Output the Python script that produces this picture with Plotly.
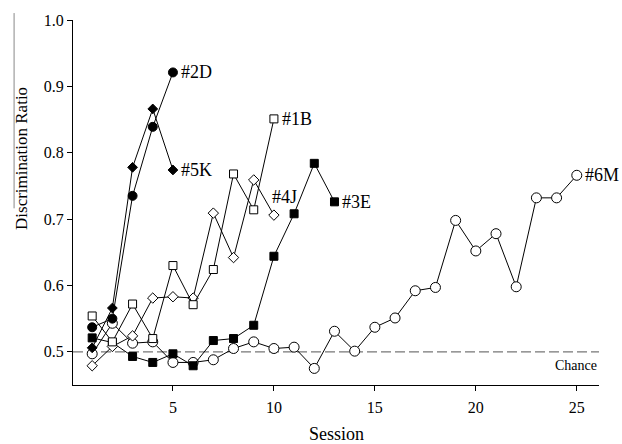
import plotly.graph_objects as go

# ---- data ----
rat_2D = [0.537, 0.550, 0.735, 0.839, 0.921]
rat_5K = [0.506, 0.566, 0.778, 0.866, 0.774]
rat_1B = [0.554, 0.515, 0.572, 0.520, 0.630, 0.571, 0.624, 0.768, 0.714, 0.851]
rat_4J = [0.479, 0.508, 0.524, 0.581, 0.583, 0.581, 0.709, 0.642, 0.759, 0.706]
rat_3E = [0.521, 0.514, 0.493, 0.484, 0.497, 0.479, 0.517, 0.520, 0.540, 0.644,
          0.708, 0.784, 0.726]
rat_6M = [0.497, 0.543, 0.513, 0.515, 0.484, 0.484, 0.488, 0.505, 0.515, 0.505,
          0.507, 0.475, 0.531, 0.501, 0.537, 0.551, 0.592, 0.597, 0.698, 0.652,
          0.678, 0.598, 0.732, 0.732, 0.766]
chance = 0.5
x_ticks = [5, 10, 15, 20, 25]
y_ticks = [0.5, 0.6, 0.7, 0.8, 0.9, 1.0]

FONT = "Liberation Serif, Times New Roman, serif"

series = [
    ("#6M", rat_6M, "circle", 10, "white"),
    ("#3E", rat_3E, "square", 8, "black"),
    ("#4J", rat_4J, "diamond", 8, "white"),
    ("#1B", rat_1B, "square", 8, "white"),
    ("#5K", rat_5K, "diamond", 7.5, "black"),
    ("#2D", rat_2D, "circle", 9, "black"),
]

fig = go.Figure()
for name, vals, sym, size, fill in series:
    sessions = list(range(1, len(vals) + 1))
    fig.add_trace(go.Scatter(
        x=sessions, y=vals, mode="lines+markers", name=name,
        line=dict(color="black", width=1),
        marker=dict(symbol=sym, size=size, color=fill,
                    line=dict(color="black", width=1)),
        cliponaxis=False, showlegend=False, hoverinfo="skip",
    ))

# series labels at the last point of each series
label_pos = {"#2D": (5, rat_2D[-1], 6, 0), "#5K": (5, rat_5K[-1], 6, 0),
             "#1B": (10, rat_1B[-1], 6, 0), "#4J": (10, rat_4J[-1], -4, 18),
             "#3E": (13, rat_3E[-1], 6, 0), "#6M": (25, rat_6M[-1], 6, 0)}
for name, (lx, ly, xs, ys) in label_pos.items():
    fig.add_annotation(x=lx, y=ly, text=name, showarrow=False, xanchor="left",
                       yanchor="middle", xshift=xs, yshift=ys,
                       font=dict(family=FONT, size=18, color="black"))

# chance line
fig.add_shape(type="line", xref="paper", x0=0, x1=1, yref="y", y0=chance, y1=chance,
              line=dict(color="#777777", width=1.3, dash="10px,4px"), layer="below")
fig.add_annotation(xref="paper", x=1, y=chance, text="Chance", showarrow=False,
                   xanchor="right", yanchor="top", yshift=-4,
                   font=dict(family=FONT, size=14, color="black"))

# axis titles
fig.add_annotation(xref="paper", yref="paper", x=0.5, y=-0.168, text="Session",
                   showarrow=False, xanchor="center", yanchor="bottom",
                   font=dict(family=FONT, size=18, color="black"))
fig.add_annotation(xref="paper", yref="paper", x=-0.097, y=0.622,
                   text="Discrimination Ratio", textangle=-90, showarrow=False,
                   xanchor="center", yanchor="middle",
                   font=dict(family=FONT, size=17, color="black"))
# stray vertical rule at left of the reference
fig.add_shape(type="line", xref="paper", yref="paper", x0=-0.112, x1=-0.112,
              y0=1.019, y1=0.484, line=dict(color="#888888", width=1))

fig.update_layout(
    width=622, height=444,
    margin=dict(l=73, r=23, t=17, b=59),
    paper_bgcolor="white", plot_bgcolor="white",
    font=dict(family=FONT, size=16, color="black"),
    hovermode=False,
    xaxis=dict(range=[0.05, 26.1], tickvals=x_ticks, ticks="outside", ticklen=5,
               tickcolor="black", showline=True, linecolor="black", linewidth=1,
               showgrid=False, zeroline=False, ticklabelstandoff=3,
               tickfont=dict(family=FONT, size=16, color="black")),
    yaxis=dict(range=[0.45, 1.0], tickvals=y_ticks, tickformat=".1f",
               ticks="outside", ticklen=5, tickcolor="black", showline=True,
               linecolor="black", linewidth=1, showgrid=False, zeroline=False,
               tickfont=dict(family=FONT, size=16, color="black")),
)

fig.write_html("out.html", config={"displayModeBar": False},
               post_script="document.body.style.margin='0';document.body.style.overflow='hidden';")
